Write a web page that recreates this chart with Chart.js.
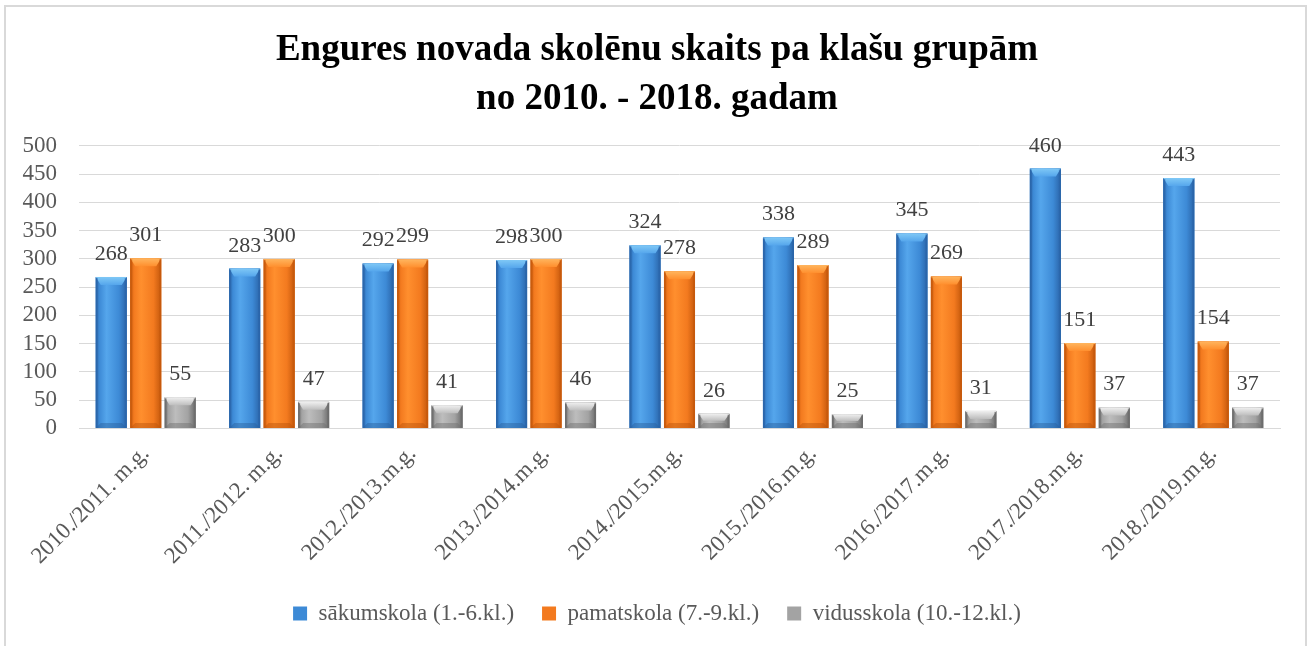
<!DOCTYPE html>
<html>
<head>
<meta charset="utf-8">
<script src="https://cdn.jsdelivr.net/npm/chart.js@4.4.1/dist/chart.umd.min.js"></script>
<style>
  html, body { margin: 0; padding: 0; background: #fff; overflow: hidden; }
  #frame { position: absolute; left: 4px; top: 5px; width: 1303px; height: 700px; border: 2px solid #d9d9d9; box-sizing: border-box; }
  #c { position: absolute; left: 0; top: 0; }
</style>
</head>
<body>
<div id="frame"></div>
<canvas id="c" width="1314" height="646"></canvas>
<script>
const categories = ["2010./2011. m.g.", "2011./2012. m.g.", "2012./2013.m.g.", "2013./2014.m.g.", "2014./2015.m.g.", "2015./2016.m.g.", "2016./2017.m.g.", "2017./2018.m.g.", "2018./2019.m.g."];
const sakumskola = [268, 283, 292, 298, 324, 338, 345, 460, 443];
const pamatskola = [301, 300, 299, 300, 278, 289, 269, 151, 154];
const vidusskola = [55, 47, 41, 46, 26, 25, 31, 37, 37];
const seriesNames = ["sākumskola (1.-6.kl.)", "pamatskola (7.-9.kl.)", "vidusskola (10.-12.kl.)"];
const titleLines = ["Engures novada skolēnu skaits pa klašu grupām", "no 2010. - 2018. gadam"];
const yTickValues = [0, 50, 100, 150, 200, 250, 300, 350, 400, 450, 500];

const FONT = "'Liberation Serif', 'Times New Roman', serif";
const palettes = [
  { mid: '#3d8ad6', light: '#55a6ec', dark: '#2a64a8', top: '#7fc8f6', bottom: '#2b5f9c' },
  { mid: '#f37a1f', light: '#ff8f2e', dark: '#c4580c', top: '#ffb55e', bottom: '#b8520c' },
  { mid: '#a3a3a3', light: '#bdbdbd', dark: '#6a6a6a', top: '#f0f0f0', bottom: '#6e6e6e' }
];

const bevelPlugin = {
  id: 'bevel',
  afterDatasetsDraw(chart) {
    const ctx = chart.ctx;
    ctx.save();
    chart.data.datasets.forEach((ds, di) => {
      const meta = chart.getDatasetMeta(di);
      const p = palettes[di];
      meta.data.forEach((el) => {
        const { x, y, base, width } = el.getProps(['x', 'y', 'base', 'width'], true);
        const l = x - width / 2, r = x + width / 2, t = Math.min(y, base), b = Math.max(y, base);
        const h = b - t;
        const g = ctx.createLinearGradient(l, 0, r, 0);
        g.addColorStop(0, p.dark);
        g.addColorStop(0.12, p.mid);
        g.addColorStop(0.35, p.light);
        g.addColorStop(0.75, p.mid);
        g.addColorStop(1, p.dark);
        ctx.fillStyle = g;
        ctx.fillRect(l, t, width, h);
        const bt = Math.min(8, h / 2), bs = Math.min(5, width / 2);
        ctx.beginPath();
        ctx.moveTo(l, t); ctx.lineTo(r, t); ctx.lineTo(r - bs, t + bt); ctx.lineTo(l + bs, t + bt); ctx.closePath();
        const gt = ctx.createLinearGradient(0, t, 0, t + bt);
        gt.addColorStop(0, p.top);
        gt.addColorStop(1, p.light);
        ctx.fillStyle = gt;
        ctx.fill();
        const bb = Math.min(5, h / 2);
        ctx.beginPath();
        ctx.moveTo(l, b); ctx.lineTo(r, b); ctx.lineTo(r - bs, b - bb); ctx.lineTo(l + bs, b - bb); ctx.closePath();
        ctx.globalAlpha = 0.45;
        ctx.fillStyle = p.bottom;
        ctx.fill();
        ctx.globalAlpha = 1;
        ctx.fillStyle = p.dark;
        ctx.globalAlpha = 0.6;
        ctx.fillRect(l, t + 1, 2, h - 1);
        ctx.fillRect(r - 2, t + 1, 2, h - 1);
        ctx.globalAlpha = 1;
      });
    });
    ctx.font = '22px ' + FONT;
    ctx.fillStyle = '#404040';
    ctx.textAlign = 'center';
    ctx.textBaseline = 'alphabetic';
    chart.data.datasets.forEach((ds, di) => {
      const meta = chart.getDatasetMeta(di);
      meta.data.forEach((el, i) => {
        ctx.fillText(String(ds.data[i]), el.x, el.y - 17);
      });
    });
    ctx.restore();
  }
};

const seriesData = [sakumskola, pamatskola, vidusskola];
const datasets = seriesData.map((d, i) => ({
  label: seriesNames[i],
  data: d,
  backgroundColor: palettes[i].mid,
  borderWidth: 0,
  categoryPercentage: 0.775,
  barPercentage: 0.9
}));

new Chart(document.getElementById('c'), {
  type: 'bar',
  data: { labels: categories, datasets },
  plugins: [bevelPlugin],
  options: {
    responsive: false,
    animation: false,
    devicePixelRatio: 1,
    layout: { padding: { left: 17, right: 17, top: 8, bottom: 11 } },
    plugins: {
      title: {
        display: true,
        text: titleLines,
        color: '#000',
        font: { family: FONT, size: 37, weight: 'bold', lineHeight: 1.35 },
        padding: { top: 17, bottom: 21 }
      },
      legend: {
        position: 'bottom',
        labels: {
          font: { family: FONT, size: 23 },
          color: '#595959',
          boxWidth: 14,
          boxHeight: 14,
          padding: 28
        }
      },
      tooltip: { enabled: false }
    },
    scales: {
      y: {
        min: yTickValues[0],
        max: yTickValues[yTickValues.length - 1],
        afterBuildTicks: (scale) => { scale.ticks = yTickValues.map(v => ({ value: v })); },
        afterFit: (scale) => { scale.width = 62; },
        ticks: { autoSkip: false, font: { family: FONT, size: 23, lineHeight: 1 }, color: '#595959', padding: 22 },
        grid: { color: '#d9d9d9', drawTicks: false },
        border: { display: false }
      },
      yRight: {
        position: 'right',
        display: true,
        ticks: { display: false },
        grid: { display: false, drawTicks: false },
        border: { display: false },
        afterFit: (scale) => { scale.width = 17; }
      },
      x: {
        ticks: { maxRotation: 45, minRotation: 45, font: { family: FONT, size: 23 }, color: '#595959', padding: 4 },
        grid: { display: false },
        border: { color: '#d9d9d9', width: 1 }
      }
    }
  }
});
</script>
</body>
</html>
